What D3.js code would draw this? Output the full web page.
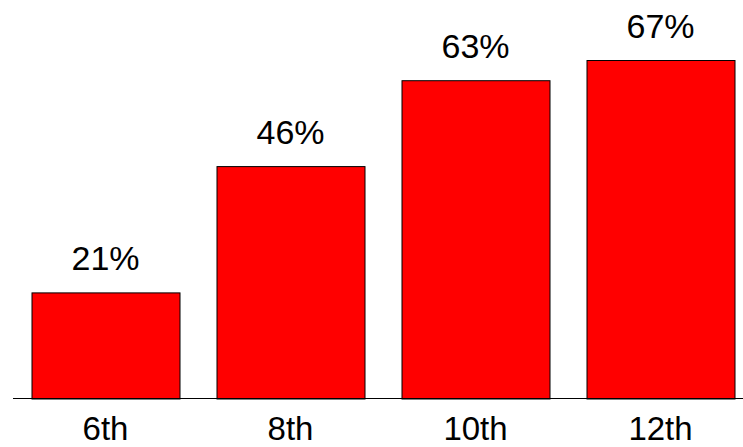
<!DOCTYPE html>
<html>
<head>
<meta charset="utf-8">
<script src="https://cdn.jsdelivr.net/npm/d3@7"></script>
<style>
    body { margin: 0; background: #fff; }
    svg text { font-family: Arial, "Liberation Sans", sans-serif; fill: #000; }
</style>
</head>
<body>
<svg id="chart" width="743" height="447"></svg>
<script>
// data
var grades = ["6th", "8th", "10th", "12th"]
var percents = [21, 46, 63, 67]

var width = 743,
    height = 447,
    baseline = 398.5

var svg = d3.select("#chart")

// x band for the grades
var x = d3.scaleBand()
    .domain(grades)
    .range([13, 753])
    .paddingInner(0.2)
    .paddingOuter(0.1)

// y scale, 0 at the axis line
var y = d3.scaleLinear()
    .domain([0, 67])
    .range([baseline, 60])

// bars
svg.append("g").selectAll("rect")
    .data(percents)
    .enter().append("rect")
    .attr("x", function(d, i) { return x(grades[i]) + 0.5 })
    .attr("y", function(d) { return y(d) + 0.5 })
    .attr("width", x.bandwidth())
    .attr("height", function(d) { return baseline - y(d) })
    .style("fill", "#ff0000")
    .style("stroke", "#000")
    .style("stroke-width", 1)

// value labels above the bars
svg.append("g").selectAll("text")
    .data(percents)
    .enter().append("text")
    .attr("x", function(d, i) { return x(grades[i]) + x.bandwidth() / 2 })
    .attr("y", function(d) { return y(d) - 22 })
    .attr("text-anchor", "middle")
    .style("font-size", "34px")
    .text(function(d) { return d + "%" })

// x axis: plain line, no ticks
var xAxis = svg.append("g")
    .attr("transform", "translate(0," + baseline + ")")
    .call(d3.axisBottom(x).tickSize(0).tickPadding(10))

xAxis.select(".domain")
    .attr("d", "M13,0H743")
    .style("stroke", "#000")
    .style("stroke-width", 1)

xAxis.selectAll(".tick text")
    .attr("y", 41.5)
    .attr("dy", 0)
    .style("font-size", "33px")
    .style("font-family", "Arial, 'Liberation Sans', sans-serif")
    .style("fill", "#000")
</script>
</body>
</html>
